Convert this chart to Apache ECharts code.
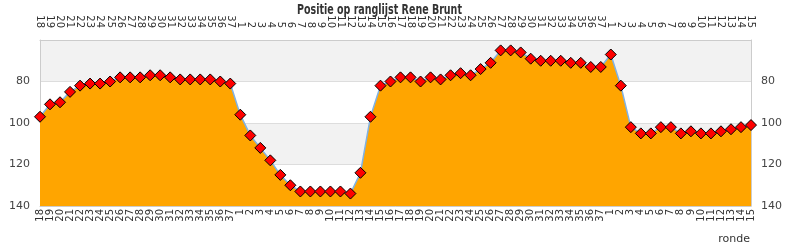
<!DOCTYPE html>
<html>
<head>
<meta charset="utf-8">
<script src="https://cdn.jsdelivr.net/npm/echarts@6/dist/echarts.min.js"></script>
<style>html,body{margin:0;padding:0;background:#fff}#c{width:790px;height:250px}</style>
</head>
<body>
<div id="c"></div>
<script>
var titleText = 'Positie op ranglijst Rene Brunt';
var axisName = 'ronde';
var rounds = ['18','19','20','21','22','23','24','25','26','27','28','29','30','31','32','33','34','35','36','37',
  '1','2','3','4','5','6','7','8','9','10','11','12','13','14','15','16','17','18','19','20','21','22','23','24','25','26','27','28','29','30','31','32','33','34','35','36','37',
  '1','2','3','4','5','6','7','8','9','10','11','12','13','14','15'];
var positions = [97,91,90,85,82,81,81,80,78,78,78,77,77,78,79,79,79,79,80,81,
  96,106,112,118,125,130,133,133,133,133,133,134,124,97,82,80,78,78,80,78,79,77,76,77,74,71,65,65,66,69,70,70,70,71,71,73,73,
  67,82,102,105,105,102,102,105,104,105,105,104,103,102,101];
var yTicks = {min: 60, max: 140, interval: 20};

var chart = echarts.init(document.getElementById('c'), null, {renderer: 'canvas'});
var xLabel = {fontFamily: 'DejaVu Sans', fontSize: 10, color: '#333', rotate: 90, interval: 0};
var yLabel = {fontFamily: 'DejaVu Sans', fontSize: 11, color: '#444', showMinLabel: false};
chart.setOption({
  animation: false,
  graphic: [
    {type: 'text', x: 297, y: 3, scaleX: 0.755, z: 100,
     style: {text: titleText, font: 'bold 14px "DejaVu Sans Condensed", "DejaVu Sans"', fill: '#333', textVerticalAlign: 'top'}},
    {type: 'text', right: 40, top: 234, style: {text: axisName, font: '11px DejaVu Sans', fill: '#333'}}
  ],
  grid: {left: 40, right: 39, top: 40, bottom: 44},
  xAxis: [
    {type: 'category', data: rounds, boundaryGap: false, position: 'bottom',
     axisLine: {lineStyle: {color: '#ccc'}}, axisTick: {show: false},
     axisLabel: Object.assign({margin: 3}, xLabel)},
    {type: 'category', data: rounds, boundaryGap: false, position: 'top',
     axisLine: {lineStyle: {color: '#ccc'}}, axisTick: {show: false},
     axisLabel: Object.assign({margin: 12}, xLabel)}
  ],
  yAxis: [
    {type: 'value', inverse: true, min: yTicks.min, max: yTicks.max, interval: yTicks.interval, position: 'left',
     axisLine: {show: true, lineStyle: {color: '#ccc'}}, axisTick: {show: false},
     splitLine: {lineStyle: {color: '#ddd'}},
     splitArea: {show: true, areaStyle: {color: ['#f2f2f2', '#ffffff']}},
     axisLabel: Object.assign({margin: 10}, yLabel)},
    {type: 'value', inverse: true, min: yTicks.min, max: yTicks.max, interval: yTicks.interval, position: 'right',
     axisLine: {show: true, lineStyle: {color: '#ccc'}}, axisTick: {show: false},
     splitLine: {show: false},
     axisLabel: Object.assign({margin: 10}, yLabel)}
  ],
  series: [{
    type: 'line', data: positions, xAxisIndex: 0, yAxisIndex: 0,
    symbol: 'diamond', symbolSize: 11,
    itemStyle: {color: '#ff0000', borderColor: '#000', borderWidth: 1},
    lineStyle: {color: '#7fb2e5', width: 1.5},
    areaStyle: {color: '#ffa500', opacity: 1, origin: 'end'}
  }]
});
</script>
</body>
</html>
